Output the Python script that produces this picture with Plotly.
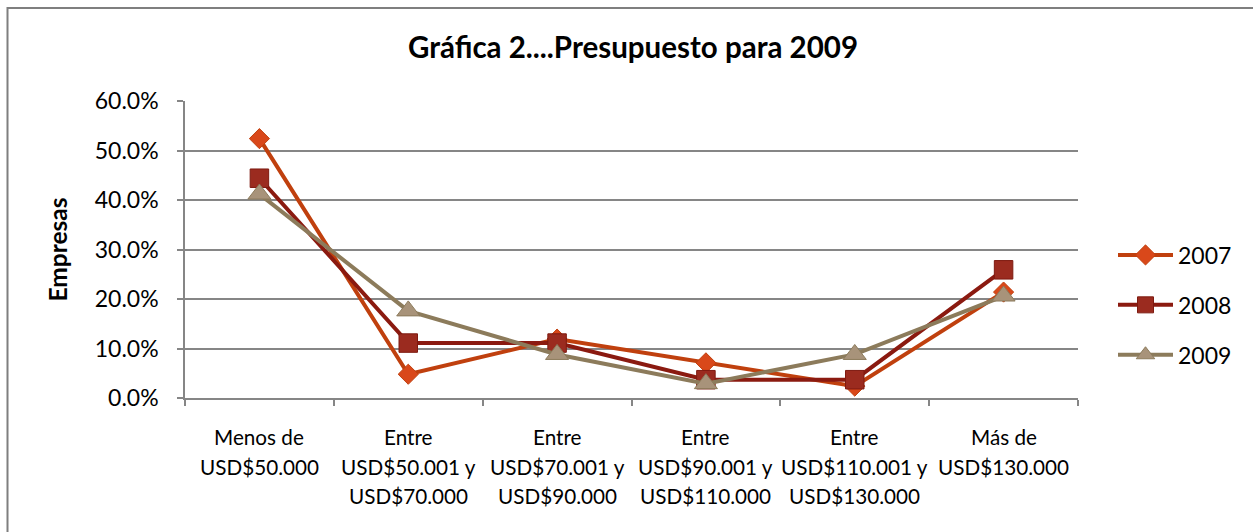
import plotly.graph_objects as go

categories = ["Menos de<br>USD$50.000",
              "Entre<br>USD$50.001 y<br>USD$70.000",
              "Entre<br>USD$70.001 y<br>USD$90.000",
              "Entre<br>USD$90.001 y<br>USD$110.000",
              "Entre<br>USD$110.001 y<br>USD$130.000",
              "Más de<br>USD$130.000"]
series_names = ["2007", "2008", "2009"]
v2007 = [0.524, 0.048, 0.119, 0.071, 0.024, 0.214]
v2008 = [0.444, 0.111, 0.111, 0.037, 0.037, 0.259]
v2009 = [0.412, 0.176, 0.088, 0.029, 0.088, 0.206]
y_ticks = [0.0, 0.1, 0.2, 0.3, 0.4, 0.5, 0.6]

W, H = 1253, 532
L, R, T, B = 185, 175, 101, 134
PW, PH = W - L - R, H - T - B

FONT = "Lato"
GRID = "#868686"

styles = [
    dict(line="#C0400E", marker="#D9481A", mborder="#C0400E", symbol="diamond", size=15.5),
    dict(line="#8B1A10", marker="#9B2B1F", mborder="#7E1A10", symbol="square", size=18.5),
    dict(line="#8C7B5B", marker="#A8937A", mborder="#8C7B5B", symbol="triangle-up", size=20),
]

fig = go.Figure()
for name, vals, st in zip(series_names, [v2007, v2008, v2009], styles):
    fig.add_trace(go.Scatter(
        x=list(range(len(categories))), y=vals, name=name, mode="lines+markers",
        legendgroup=name,
        line=dict(color=st["line"], width=4),
        marker=dict(symbol=st["symbol"], size=st["size"], color=st["marker"],
                    line=dict(color=st["mborder"], width=1)),
    ))

annotations = []
for i, cat in enumerate(categories):
    for j, part in enumerate(cat.split("<br>")):
        annotations.append(dict(
            x=i, y=0, xref="x", yref="paper", text=part, showarrow=False,
            xanchor="center", yanchor="middle", yshift=-39 - 29.5 * j,
            font=dict(family=FONT, size=20.7, color="#000000")))

def px_to_paper_x(px):
    return (px - L) / PW

def px_to_paper_y(py):
    return (H - B - py) / PH

fig.update_layout(
    width=W, height=H,
    margin=dict(l=L, r=R, t=T, b=B),
    paper_bgcolor="white", plot_bgcolor="white",
    title=dict(text="<b>Gráfica 2....Presupuesto para 2009</b>",
               x=px_to_paper_x(633), xref="paper", xanchor="center",
               y=1 - 48 / H, yanchor="middle",
               font=dict(family=FONT, size=29.5, color="#000000")),
    font=dict(family=FONT, size=20, color="#000000"),
    showlegend=True,
    legend=dict(x=px_to_paper_x(1113), xanchor="left", y=px_to_paper_y(305), yanchor="middle",
                traceorder="grouped", tracegroupgap=17,
                font=dict(family=FONT, size=23, color="#000000"),
                bgcolor="rgba(0,0,0,0)", itemwidth=55),
    xaxis=dict(range=[-0.5, len(categories) - 0.5], showgrid=False,
               showline=True, linecolor=GRID, linewidth=1.5,
               tickvals=[i - 0.5 for i in range(len(categories) + 1)],
               showticklabels=False, ticks="outside", ticklen=6,
               tickcolor=GRID, tickwidth=1.5, zeroline=False),
    yaxis=dict(range=[0, 0.6], tickvals=y_ticks, tickformat=".1%",
               showgrid=True, gridcolor=GRID, gridwidth=1.5,
               showline=True, linecolor=GRID, linewidth=1.5,
               ticks="outside", ticklen=6, tickcolor=GRID, tickwidth=1.5,
               ticklabelstandoff=14, zeroline=False,
               title=dict(text="<b>Empresas</b>", standoff=20,
                          font=dict(family=FONT, size=24.5, color="#000000")),
               tickfont=dict(family=FONT, size=23, color="#000000")),
    annotations=annotations,
    shapes=[dict(type="rect", xref="paper", yref="paper",
                 x0=px_to_paper_x(7.5), x1=px_to_paper_x(W + 10),
                 y0=px_to_paper_y(H + 10), y1=px_to_paper_y(8),
                 line=dict(color="#7F7F7F", width=2), fillcolor="rgba(0,0,0,0)",
                 layer="below")],
)

fig.write_html("out.html", post_script="document.body.style.margin='0';",
               config={"displayModeBar": False})
